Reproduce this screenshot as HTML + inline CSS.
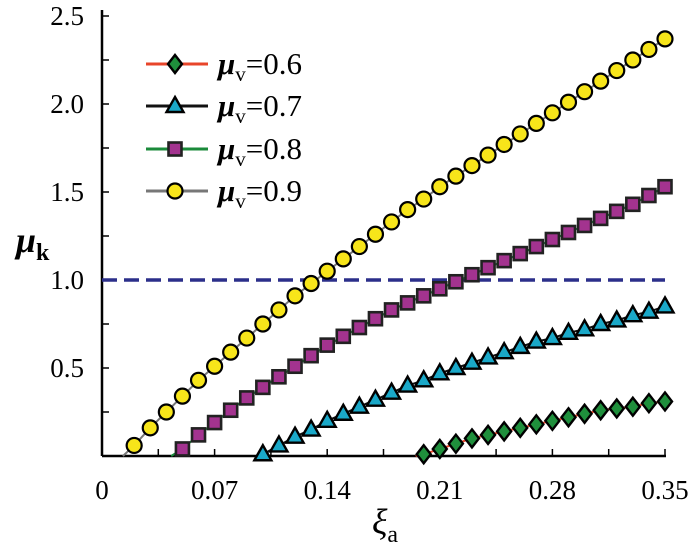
<!DOCTYPE html>
<html><head><meta charset="utf-8"><style>
body{margin:0;background:#fff;}
svg{display:block;font-family:"Liberation Serif",serif;}
</style></head><body>
<svg id="chart" width="700" height="551" viewBox="0 0 700 551"></svg>
<script>
const xs06 = [0.20,0.21,0.22,0.23,0.24,0.25,0.26,0.27,0.28,0.29,0.30,0.31,0.32,0.33,0.34,0.35];
const ys06 = [0.01,0.04,0.07,0.10,0.12,0.14,0.16,0.18,0.20,0.22,0.24,0.26,0.27,0.28,0.30,0.31];
const xs07 = [0.10,0.11,0.12,0.13,0.14,0.15,0.16,0.17,0.18,0.19,0.20,0.21,0.22,0.23,0.24,0.25,0.26,0.27,0.28,0.29,0.30,0.31,0.32,0.33,0.34,0.35];
const ys07 = [0.01,0.06,0.11,0.15,0.20,0.24,0.28,0.32,0.36,0.40,0.43,0.47,0.50,0.53,0.56,0.59,0.62,0.65,0.67,0.70,0.72,0.75,0.77,0.80,0.82,0.85];
const xs08 = [0.05,0.06,0.07,0.08,0.09,0.10,0.11,0.12,0.13,0.14,0.15,0.16,0.17,0.18,0.19,0.20,0.21,0.22,0.23,0.24,0.25,0.26,0.27,0.28,0.29,0.30,0.31,0.32,0.33,0.34,0.35];
const ys08 = [0.04,0.12,0.19,0.26,0.33,0.39,0.45,0.51,0.57,0.63,0.68,0.73,0.78,0.83,0.87,0.91,0.95,0.99,1.03,1.07,1.11,1.15,1.19,1.23,1.27,1.31,1.35,1.39,1.43,1.48,1.53];
const xs09 = [0.02,0.03,0.04,0.05,0.06,0.07,0.08,0.09,0.10,0.11,0.12,0.13,0.14,0.15,0.16,0.17,0.18,0.19,0.20,0.21,0.22,0.23,0.24,0.25,0.26,0.27,0.28,0.29,0.30,0.31,0.32,0.33,0.34,0.35];
const ys09 = [0.06,0.16,0.25,0.34,0.43,0.51,0.59,0.67,0.75,0.83,0.91,0.98,1.05,1.12,1.19,1.26,1.33,1.40,1.46,1.53,1.59,1.65,1.71,1.77,1.83,1.89,1.95,2.01,2.07,2.13,2.19,2.25,2.31,2.37];
const startX = [0.195,0.097,0.043,0.013];
const xTicks = [0,0.07,0.14,0.21,0.28,0.35];
const xTickLabels = ["0","0.07","0.14","0.21","0.28","0.35"];
const yTicks = [0.5,1.0,1.5,2.0,2.5];
const yTickLabels = ["0.5","1.0","1.5","2.0","2.5"];
const refLevel = 1.0;

const NS="http://www.w3.org/2000/svg";
const svg=document.getElementById('chart');
const X0=102,X1=665,Y0=456,Y1=16;
const sx=v=>X0+(v/0.35)*(X1-X0);
const sy=v=>Y0-(v/2.5)*(Y0-Y1);
function mk(tag,attrs,parent){const e=document.createElementNS(NS,tag);for(const k in attrs)e.setAttribute(k,attrs[k]);(parent||svg).appendChild(e);return e;}

const ax=mk('g',{});


mk('line',{x1:X0,y1:Y1-6,x2:X0,y2:Y0,stroke:'#000','stroke-width':2.5},ax);
mk('line',{x1:X0,y1:Y0,x2:X1+1,y2:Y0,stroke:'#000','stroke-width':2.5},ax);
for(let v=0.25;v<=2.5001;v+=0.25){mk('line',{x1:X0,x2:X0+7,y1:sy(v),y2:sy(v),stroke:'#000','stroke-width':1.5},ax);}
for(let v=0.035;v<=0.3501;v+=0.035){mk('line',{x1:sx(v),x2:sx(v),y1:Y0,y2:Y0-7,stroke:'#000','stroke-width':1.5},ax);}
xTicks.forEach((v,i)=>{const t=mk('text',{x:sx(v),y:499,'text-anchor':'middle','font-size':27},ax);t.textContent=xTickLabels[i];

});
yTicks.forEach((v,i)=>{const t=mk('text',{x:84,y:sy(v)+9,'text-anchor':'end','font-size':27},ax);t.textContent=yTickLabels[i];

});
const xl=mk('text',{x:372,y:534,'font-size':36,'font-style':'italic'});xl.innerHTML='ξ<tspan font-size="24" font-style="normal" dy="8">a</tspan>';


const yl=mk('text',{x:16,y:252,'font-size':36,'font-style':'italic','font-weight':'bold'});yl.innerHTML='μ<tspan font-size="24" font-style="normal" font-weight="bold" dy="8">k</tspan>';



const ref=mk('line',{x1:X0,x2:X1,y1:sy(refLevel),y2:sy(refLevel),stroke:'#2b2f8a','stroke-width':3.5,'stroke-dasharray':'15,7'});



function marker(type,x,y,g){
  if(type==='d')mk('polygon',{points:`${x},${y-9} ${x+7},${y} ${x},${y+9} ${x-7},${y}`,fill:'#1f8f3c',stroke:'#000','stroke-width':2.4},g);
  if(type==='t')mk('polygon',{points:`${x},${y-9} ${x+8.5},${y+6} ${x-8.5},${y+6}`,fill:'#1aa8c8',stroke:'#000','stroke-width':2.4},g);
  if(type==='s')mk('rect',{x:x-6.5,y:y-6.5,width:13,height:13,fill:'#a3338f',stroke:'#222','stroke-width':2.6},g);
  if(type==='c')mk('circle',{cx:x,cy:y,r:7.5,fill:'#f7e51a',stroke:'#000','stroke-width':2.2},g);
}
const series=[
 {xs:xs06,ys:ys06,col:'#e8452a',m:'d',name:'series-mu-0.6',lab:'0.6'},
 {xs:xs07,ys:ys07,col:'#111',m:'t',name:'series-mu-0.7',lab:'0.7'},
 {xs:xs08,ys:ys08,col:'#1a8a3a',m:'s',name:'series-mu-0.8',lab:'0.8'},
 {xs:xs09,ys:ys09,col:'#777',m:'c',name:'series-mu-0.9',lab:'0.9'}];
series.forEach((s,i)=>{
  const g=mk('g',{});
  
  
  let pts=[[sx(startX[i]),sy(0)]].concat(s.xs.map((x,j)=>[sx(x),sy(s.ys[j])]));
  mk('polyline',{points:pts.map(p=>p.join(',')).join(' '),fill:'none',stroke:s.col,'stroke-width':2},g);
  s.xs.forEach((x,j)=>marker(s.m,sx(x),sy(s.ys[j]),g));
  const ly=[64,106,149,191][i];
  const lg=mk('g',{});
  
  
  mk('line',{x1:146,x2:208,y1:ly,y2:ly,stroke:s.col,'stroke-width':3},lg);
  marker(s.m,175,ly,lg);
  const t=mk('text',{x:218,y:ly+10,'font-size':31},lg);
  t.innerHTML='<tspan font-style="italic" font-weight="bold">μ</tspan><tspan font-size="21" dy="7">v</tspan><tspan dy="-7">='+s.lab+'</tspan>';
});
</script>
</body></html>
